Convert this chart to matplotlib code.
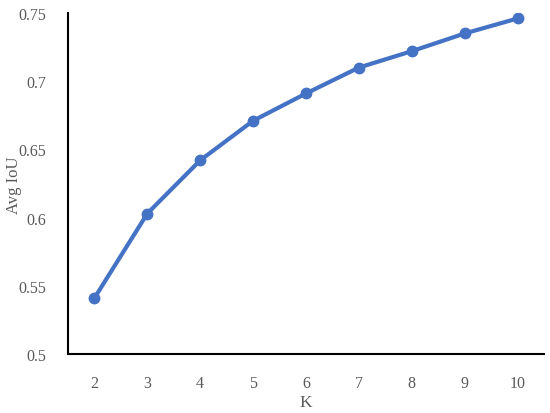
import matplotlib
matplotlib.use("Agg")
import matplotlib.pyplot as plt

k_values = [2, 3, 4, 5, 6, 7, 8, 9, 10]
avg_iou = [0.541, 0.603, 0.642, 0.671, 0.691, 0.710, 0.722, 0.735, 0.746]
y_ticks = [0.5, 0.55, 0.6, 0.65, 0.7, 0.75]
y_tick_labels = ["0.5", "0.55", "0.6", "0.65", "0.7", "0.75"]

plt.rcParams['font.family'] = ['Liberation Serif', 'DejaVu Serif']
grey = '#595959'

fig = plt.figure(figsize=(5.5, 4.14), dpi=100)
ax = fig.add_axes([68/550, 1-355/414, (544-68)/550, (355-14)/414])

ax.plot(k_values, avg_iou, color='#4472C4', linewidth=3, marker='o', markersize=7.5)

ax.set_xlim(1.5, 10.5)
ax.set_ylim(0.5, 0.75)
ax.set_xticks(k_values)
ax.set_xticklabels([str(k) for k in k_values])
ax.set_yticks(y_ticks)
ax.set_yticklabels(y_tick_labels)
ax.tick_params(length=0, labelsize=11.5, colors=grey)
ax.tick_params(axis='x', pad=15)
ax.tick_params(axis='y', pad=16)

for s in ['top', 'right']:
    ax.spines[s].set_visible(False)
for s in ['left', 'bottom']:
    ax.spines[s].set_color('black')
    ax.spines[s].set_linewidth(1.5)

ax.set_xlabel('K', fontsize=12.5, color=grey)
ax.set_ylabel('Avg IoU', fontsize=12, color=grey)
ax.xaxis.set_label_coords(0.5, -(403-355)/341, transform=ax.transAxes)
ax.yaxis.set_label_coords((14-68)/476, (355-185)/341, transform=ax.transAxes)
ax.xaxis.label.set_va('center')
ax.yaxis.label.set_va('center')

fig.savefig('out.png', dpi=100)
